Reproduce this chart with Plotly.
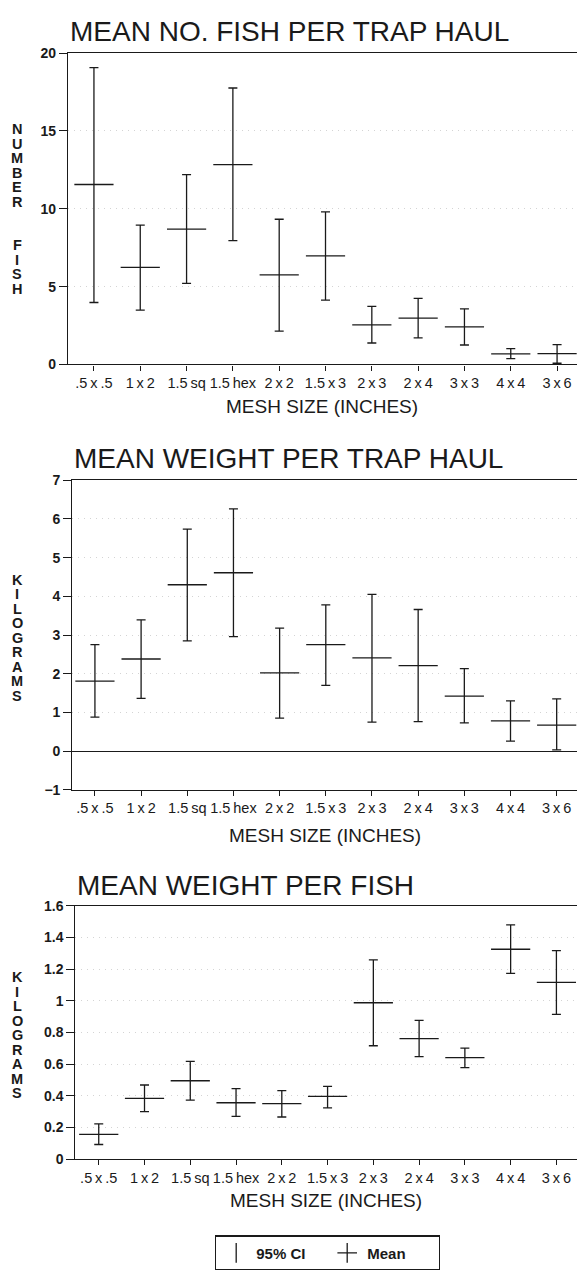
import plotly.graph_objects as go
import numpy as np

# ---------------- data ----------------
T = "\u2009"  # thin space
mesh_sizes = [f".5{T}x{T}.5", f"1{T}x{T}2", f"1.5{T}sq", f"1.5{T}hex", f"2{T}x{T}2", f"1.5{T}x{T}3",
              f"2{T}x{T}3", f"2{T}x{T}4", f"3{T}x{T}3", f"4{T}x{T}4", f"3{T}x{T}6"]

fish_mean = [11.56, 6.24, 8.70, 12.84, 5.76, 6.98, 2.54, 2.98, 2.41, 0.68, 0.70]
fish_lo   = [3.98, 3.49, 5.21, 7.96, 2.14, 4.13, 1.38, 1.71, 1.25, 0.38, 0.08]
fish_hi   = [19.07, 8.95, 12.19, 17.76, 9.33, 9.80, 3.73, 4.25, 3.57, 1.02, 1.27]

wt_mean = [1.81, 2.38, 4.30, 4.61, 2.02, 2.75, 2.41, 2.21, 1.42, 0.78, 0.67]
wt_lo   = [0.88, 1.36, 2.85, 2.96, 0.85, 1.70, 0.75, 0.76, 0.73, 0.26, 0.03]
wt_hi   = [2.75, 3.39, 5.74, 6.26, 3.18, 3.78, 4.05, 3.66, 2.13, 1.30, 1.35]

wpf_mean = [0.156, 0.383, 0.495, 0.356, 0.350, 0.396, 0.988, 0.761, 0.641, 1.326, 1.117]
wpf_lo   = [0.092, 0.300, 0.372, 0.270, 0.266, 0.324, 0.716, 0.647, 0.578, 1.173, 0.915]
wpf_hi   = [0.223, 0.468, 0.618, 0.445, 0.433, 0.460, 1.259, 0.876, 0.701, 1.480, 1.317]

panel_titles = ["MEAN NO. FISH PER TRAP HAUL", "MEAN WEIGHT PER TRAP HAUL", "MEAN WEIGHT PER FISH"]
y_titles = ["NUMBER  FISH", "KILOGRAMS", "KILOGRAMS"]
x_title = "MESH SIZE (INCHES)"
legend_labels = ["95% CI", "Mean"]

# ---------------- layout constants ----------------
W, H = 577, 1275
FONT = "Liberation Sans, Arial, sans-serif"
INK = "#1a1a1a"

def py(px):
    return 1 - px / H

panels = [
    dict(mean=fish_mean, lo=fish_lo, hi=fish_hi, x0=68.0, top=45.7, bot=361.0,
         xr=[-0.56, 10.43], yr=[0, 20], dtick=5, zl=False,
         title_y=24, xt_y=404, yt_c=203.5),
    dict(mean=wt_mean, lo=wt_lo, hi=wt_hi, x0=72.3, top=478.3, bot=791.7,
         xr=[-0.49, 10.44], yr=[-1, 7], dtick=1, zl=True,
         title_y=456, xt_y=838.5, yt_c=638),
    dict(mean=wpf_mean, lo=wpf_lo, hi=wpf_hi, x0=75.4, top=909.3, bot=1165.7,
         xr=[-0.51, 10.45], yr=[0, 1.6], dtick=0.2, zl=False,
         title_y=888.5, xt_y=1208, yt_c=1040.5),
]

fig = go.Figure()
annotations = []

for i, p in enumerate(panels):
    n = i + 1
    xa = "x" if n == 1 else f"x{n}"
    ya = "y" if n == 1 else f"y{n}"
    mean = np.array(p["mean"])
    lo = np.array(p["lo"])
    hi = np.array(p["hi"])

    # 95% CI error bars
    fig.add_trace(go.Scatter(
        x=mesh_sizes, y=mean, mode="markers",
        marker=dict(size=1, color="rgba(0,0,0,0)"),
        error_y=dict(type="data", symmetric=False, array=hi - mean,
                     arrayminus=mean - lo, width=4.5, thickness=1.3, color=INK),
        xaxis=xa, yaxis=ya, showlegend=False, hoverinfo="skip"))
    # mean tick
    fig.add_trace(go.Scatter(
        x=mesh_sizes, y=mean, mode="markers",
        marker=dict(symbol="line-ew", size=28, color=INK,
                    line=dict(width=1.3, color=INK)),
        xaxis=xa, yaxis=ya, showlegend=False))

    dom_x = [p["x0"] / W, 1.0]
    dom_y = [py(p["bot"]), py(p["top"])]
    fig.layout[f"xaxis{'' if n == 1 else n}"] = dict(
        domain=dom_x, anchor=ya, type="category", range=p["xr"],
        showline=True, mirror=True, linecolor=INK, linewidth=1.3,
        ticks="outside", ticklen=5, tickwidth=1.2, tickcolor=INK,
        tickangle=0, showgrid=False, zeroline=False,
        tickfont=dict(family=FONT, size=14.5, color=INK))
    fig.layout[f"yaxis{'' if n == 1 else n}"] = dict(
        domain=dom_y, anchor=xa, range=p["yr"], dtick=p["dtick"], tick0=0,
        showline=True, linecolor=INK, linewidth=1.3,
        ticks="outside", ticklen=8, tickwidth=1.2, tickcolor=INK,
        showgrid=True, gridcolor="#d4d4d4", griddash="1px,5px", gridwidth=1,
        zeroline=p["zl"], zerolinecolor=INK, zerolinewidth=1.3,
        tickfont=dict(family=FONT, size=14, color=INK, weight="bold"))

    # panel title
    annotations.append(dict(
        text=panel_titles[i], xref="paper", yref="paper",
        x=p["x0"] / W, y=py(p["title_y"]), xanchor="left", yanchor="middle",
        showarrow=False, font=dict(family=FONT, size=28, color=INK)))
    # x axis title
    annotations.append(dict(
        text=x_title, xref="paper", yref="paper",
        x=(p["x0"] / W + 1) / 2, y=py(p["xt_y"]), xanchor="center", yanchor="middle",
        showarrow=False, font=dict(family=FONT, size=19, color=INK)))
    # stacked y axis title letters
    letters = list(y_titles[i])
    k = len(letters)
    for j, ch in enumerate(letters):
        if ch == " ":
            continue
        annotations.append(dict(
            text=ch, xref="paper", yref="paper", x=17 / W, y=py(p["yt_c"]),
            yshift=-(j - (k - 1) / 2) * 14.5, xanchor="center", yanchor="middle",
            showarrow=False, font=dict(family=FONT, size=14.5, color=INK, weight="bold")))

# legend-only entries
fig.add_trace(go.Scatter(x=[None], y=[None], mode="markers", name=legend_labels[0],
                         marker=dict(symbol="line-ns", size=14, color=INK,
                                     line=dict(width=1.3, color=INK))))
fig.add_trace(go.Scatter(x=[None], y=[None], mode="markers", name=legend_labels[1],
                         marker=dict(symbol="cross-thin", size=14, color=INK,
                                     line=dict(width=1.3, color=INK))))

fig.update_layout(
    width=W, height=H, margin=dict(l=0, r=0, t=0, b=0),
    paper_bgcolor="white", plot_bgcolor="white",
    annotations=annotations,
    showlegend=True,
    legend=dict(orientation="h", x=327.5 / W, xanchor="center",
                y=py(1243), yanchor="top", bordercolor=INK, borderwidth=1.2,
                bgcolor="white", entrywidth=66, entrywidthmode="pixels",
                font=dict(family=FONT, size=15, color=INK, weight="bold")),
)

fig.write_html("out.html")
